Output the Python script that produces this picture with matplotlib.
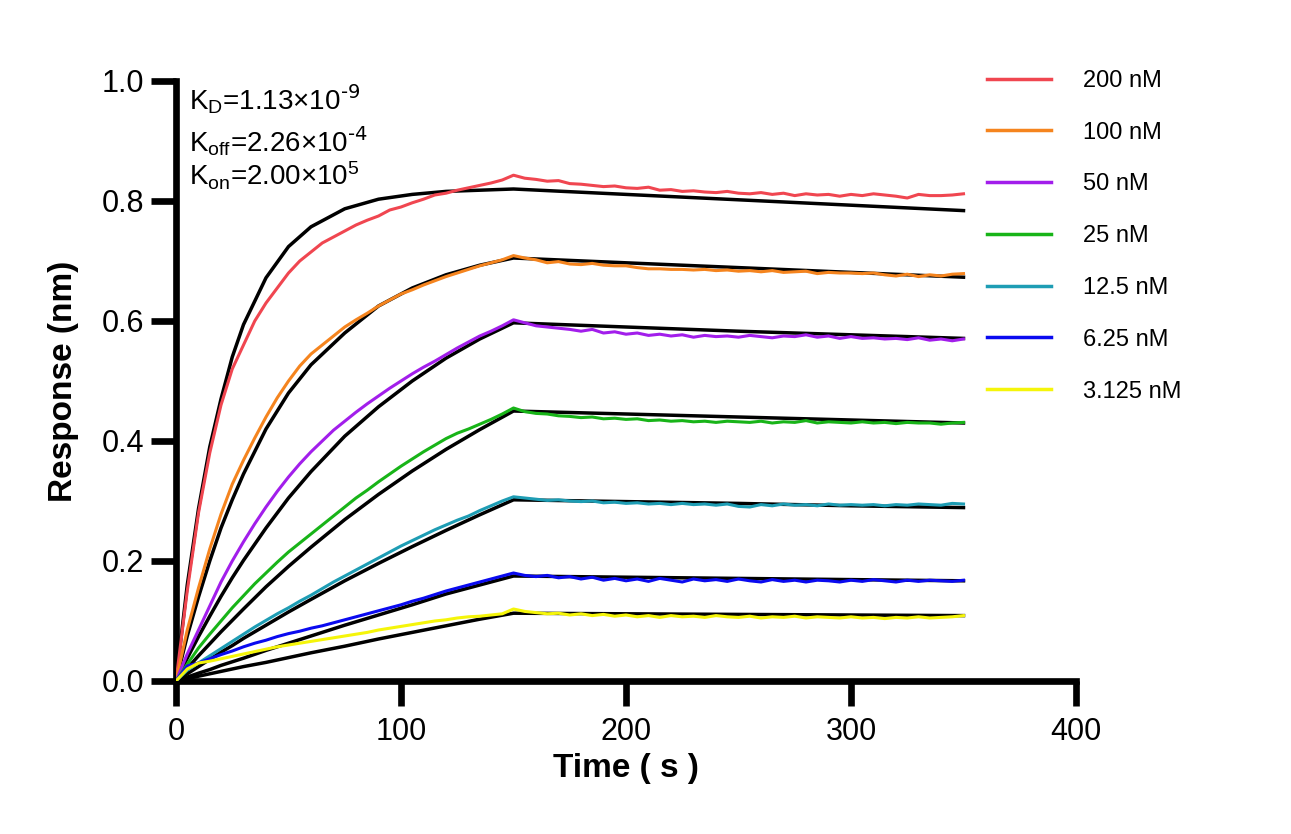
import matplotlib
matplotlib.use("Agg")
import matplotlib.pyplot as plt

# ---- data (time in s, response in nm) ----
labels = ["200 nM", "100 nM", "50 nM", "25 nM", "12.5 nM", "6.25 nM", "3.125 nM"]
colors = ["#F04650", "#F5841E", "#A21EEB", "#18B418", "#1E9DB4", "#0A0AF0", "#F5F50A"]

t_assoc = [0, 5, 10, 15, 20, 25, 30, 35, 40, 45, 50, 55, 60, 65, 70, 75, 80, 85,
           90, 95, 100, 105, 110, 115, 120, 125, 130, 135, 140, 145, 150]
t_dissoc = [155, 160, 165, 170, 175, 180, 185, 190, 195, 200, 205, 210, 215, 220,
            225, 230, 235, 240, 245, 250, 255, 260, 265, 270, 275, 280, 285, 290,
            295, 300, 305, 310, 315, 320, 325, 330, 335, 340, 345, 350]

raw_200 = [0, 0.15, 0.28, 0.38, 0.46, 0.52, 0.56, 0.60, 0.63, 0.655, 0.68, 0.70,
           0.715, 0.73, 0.74, 0.75, 0.76, 0.768, 0.775, 0.785, 0.79, 0.797, 0.803,
           0.81, 0.813, 0.818, 0.822, 0.826, 0.83, 0.835, 0.843,
           0.838, 0.836, 0.833, 0.834, 0.829, 0.828, 0.826, 0.824, 0.825, 0.822,
           0.821, 0.823, 0.818, 0.819, 0.816, 0.817, 0.815, 0.814, 0.816, 0.813,
           0.812, 0.814, 0.811, 0.813, 0.809, 0.812, 0.810, 0.811, 0.808, 0.811,
           0.809, 0.812, 0.810, 0.808, 0.805, 0.811, 0.809, 0.809, 0.810, 0.812]
raw_100 = [0, 0.085, 0.155, 0.22, 0.278, 0.328, 0.368, 0.405, 0.44, 0.472, 0.50,
           0.525, 0.545, 0.56, 0.575, 0.59, 0.602, 0.613, 0.625, 0.635, 0.645,
           0.652, 0.66, 0.667, 0.674, 0.68, 0.686, 0.692, 0.697, 0.702, 0.709,
           0.705, 0.702, 0.697, 0.699, 0.695, 0.694, 0.696, 0.693, 0.692, 0.692,
           0.689, 0.687, 0.687, 0.686, 0.686, 0.685, 0.686, 0.684, 0.685, 0.683,
           0.684, 0.682, 0.684, 0.681, 0.682, 0.683, 0.679, 0.681, 0.680, 0.680,
           0.679, 0.680, 0.677, 0.675, 0.678, 0.674, 0.677, 0.675, 0.678, 0.679]
raw_50 = [0, 0.045, 0.085, 0.125, 0.165, 0.20, 0.232, 0.262, 0.29, 0.316, 0.34,
          0.362, 0.382, 0.40, 0.418, 0.433, 0.448, 0.462, 0.475, 0.488, 0.50,
          0.512, 0.523, 0.533, 0.544, 0.555, 0.565, 0.575, 0.583, 0.592, 0.602,
          0.597, 0.592, 0.590, 0.588, 0.586, 0.583, 0.586, 0.580, 0.582, 0.578,
          0.580, 0.576, 0.578, 0.575, 0.577, 0.573, 0.576, 0.574, 0.575, 0.573,
          0.576, 0.574, 0.572, 0.575, 0.574, 0.577, 0.573, 0.575, 0.571, 0.574,
          0.571, 0.572, 0.570, 0.571, 0.569, 0.572, 0.568, 0.570, 0.567, 0.570]
raw_25 = [0, 0.028, 0.055, 0.078, 0.10, 0.122, 0.142, 0.162, 0.18, 0.198, 0.215,
          0.23, 0.245, 0.26, 0.275, 0.29, 0.305, 0.318, 0.332, 0.345, 0.358, 0.37,
          0.382, 0.393, 0.404, 0.413, 0.42, 0.428, 0.436, 0.445, 0.455,
          0.449, 0.446, 0.445, 0.442, 0.441, 0.439, 0.440, 0.437, 0.438, 0.436,
          0.437, 0.434, 0.435, 0.433, 0.434, 0.432, 0.433, 0.431, 0.433, 0.432,
          0.431, 0.433, 0.430, 0.432, 0.431, 0.434, 0.430, 0.432, 0.431, 0.430,
          0.432, 0.430, 0.431, 0.429, 0.431, 0.430, 0.430, 0.428, 0.430, 0.431]
raw_12 = [0, 0.018, 0.03, 0.042, 0.054, 0.066, 0.078, 0.09, 0.101, 0.112, 0.122,
          0.133, 0.143, 0.154, 0.165, 0.175, 0.185, 0.195, 0.205, 0.215, 0.225,
          0.234, 0.243, 0.252, 0.26, 0.268, 0.275, 0.284, 0.292, 0.30, 0.307,
          0.305, 0.303, 0.301, 0.302, 0.300, 0.299, 0.300, 0.297, 0.298, 0.296,
          0.297, 0.295, 0.296, 0.294, 0.296, 0.294, 0.295, 0.293, 0.295, 0.291,
          0.290, 0.294, 0.292, 0.295, 0.293, 0.294, 0.292, 0.295, 0.293, 0.294,
          0.293, 0.294, 0.292, 0.294, 0.293, 0.295, 0.294, 0.293, 0.296, 0.295]
raw_6 = [0, 0.025, 0.03, 0.037, 0.044, 0.05, 0.057, 0.063, 0.068, 0.074, 0.079,
         0.083, 0.088, 0.092, 0.097, 0.102, 0.107, 0.112, 0.117, 0.122, 0.127,
         0.133, 0.138, 0.144, 0.15, 0.155, 0.16, 0.165, 0.17, 0.175, 0.18,
         0.176, 0.174, 0.176, 0.172, 0.174, 0.170, 0.173, 0.168, 0.171, 0.167,
         0.170, 0.166, 0.171, 0.168, 0.165, 0.170, 0.167, 0.169, 0.166, 0.170,
         0.167, 0.165, 0.169, 0.166, 0.168, 0.165, 0.168, 0.167, 0.165, 0.168,
         0.166, 0.169, 0.167, 0.165, 0.168, 0.166, 0.168, 0.167, 0.166, 0.168]
raw_3 = [0, 0.02, 0.03, 0.033, 0.037, 0.041, 0.045, 0.049, 0.053, 0.057, 0.06,
         0.063, 0.066, 0.069, 0.072, 0.075, 0.078, 0.081, 0.085, 0.088, 0.091,
         0.094, 0.097, 0.10, 0.102, 0.105, 0.107, 0.108, 0.11, 0.112, 0.12,
         0.116, 0.114, 0.112, 0.113, 0.110, 0.112, 0.109, 0.111, 0.108, 0.110,
         0.107, 0.109, 0.106, 0.109, 0.107, 0.108, 0.106, 0.109, 0.107, 0.106,
         0.108, 0.105, 0.107, 0.106, 0.108, 0.105, 0.107, 0.106, 0.105, 0.107,
         0.105, 0.106, 0.104, 0.106, 0.105, 0.107, 0.105, 0.106, 0.107, 0.109]

# global fit curves
t_fit = [0, 5, 10, 15, 20, 25, 30, 40, 50, 60, 75, 90, 105, 120, 135, 150,
         200, 250, 300, 350]
fit_200 = [0, 0.16, 0.287, 0.39, 0.47, 0.54, 0.594, 0.672, 0.724, 0.757, 0.787,
           0.803, 0.811, 0.816, 0.818, 0.82, 0.811, 0.802, 0.793, 0.784]
fit_100 = [0, 0.075, 0.14, 0.2, 0.255, 0.302, 0.345, 0.42, 0.48, 0.527, 0.58,
           0.625, 0.655, 0.677, 0.693, 0.705, 0.697, 0.689, 0.681, 0.673]
fit_50 = [0, 0.038, 0.074, 0.108, 0.141, 0.172, 0.201, 0.255, 0.305, 0.349,
          0.408, 0.457, 0.50, 0.538, 0.57, 0.597, 0.590, 0.583, 0.577, 0.571]
fit_25 = [0, 0.021, 0.042, 0.062, 0.082, 0.101, 0.12, 0.157, 0.191, 0.223,
          0.269, 0.311, 0.35, 0.386, 0.419, 0.45, 0.445, 0.440, 0.435, 0.430]
fit_12 = [0, 0.012, 0.024, 0.036, 0.048, 0.059, 0.071, 0.093, 0.115, 0.136,
          0.167, 0.196, 0.224, 0.251, 0.277, 0.302, 0.299, 0.296, 0.292, 0.289]
fit_6 = [0, 0.0065, 0.013, 0.019, 0.026, 0.032, 0.038, 0.051, 0.063, 0.075,
         0.093, 0.11, 0.127, 0.145, 0.16, 0.175, 0.173, 0.171, 0.169, 0.167]
fit_3 = [0, 0.004, 0.008, 0.012, 0.016, 0.02, 0.024, 0.031, 0.039, 0.047,
         0.058, 0.07, 0.081, 0.092, 0.103, 0.113, 0.112, 0.111, 0.110, 0.109]

raw_series = [raw_200, raw_100, raw_50, raw_25, raw_12, raw_6, raw_3]
fit_series = [fit_200, fit_100, fit_50, fit_25, fit_12, fit_6, fit_3]

x_ticks = [0, 100, 200, 300, 400]
y_ticks = [0.0, 0.2, 0.4, 0.6, 0.8, 1.0]
# superscripts keep a plain hyphen, as in the reference
annotations = [r"K$_\mathregular{D}$=1.13×10$^\text{-9}$",
               r"K$_\mathregular{off}$=2.26×10$^\text{-4}$",
               r"K$_\mathregular{on}$=2.00×10$^\mathregular{5}$"]

plt.rcParams["font.family"] = ["Liberation Sans", "DejaVu Sans"]
plt.rcParams["mathtext.default"] = "regular"

fig = plt.figure(figsize=(12.91, 8.34), dpi=100)
ax = fig.add_axes([176 / 1291, 1 - 681 / 834, 900 / 1291, 600 / 834])

t_all = t_assoc + t_dissoc
for raw, fit, c, lab in zip(raw_series, fit_series, colors, labels):
    ax.plot(t_fit, fit, color="black", lw=2.5, zorder=2)
    ax.plot(t_all, raw, color=c, lw=2.2, label=lab, zorder=3)

ax.set_xlim(0, 400)
ax.set_ylim(0, 1.0)
ax.set_xticks(x_ticks)
ax.set_yticks(y_ticks)
ax.set_yticklabels([f"{v:.1f}" for v in y_ticks])
for sp in ["top", "right"]:
    ax.spines[sp].set_visible(False)
for sp in ["left", "bottom"]:
    ax.spines[sp].set_linewidth(4.8)
    ax.spines[sp].set_capstyle("projecting")
ax.tick_params(width=4.8, length=18, direction="out", labelsize=22)
ax.tick_params(axis="x", pad=8)
ax.tick_params(axis="y", pad=5)

ax.set_ylabel("Response (nm)", fontsize=24, fontweight="bold", labelpad=16)
ax.set_xlabel("Time ( s )", fontsize=24, fontweight="bold", labelpad=4)

for txt, yb in zip(annotations, [0.953, 0.882, 0.825]):
    ax.text(0.0144, yb, txt, transform=ax.transAxes, fontsize=20, va="baseline")

leg = fig.legend(loc="upper left", bbox_to_anchor=(987 / 1291, 1 - 70 / 834),
                 frameon=False, fontsize=17, handlelength=2.7, handletextpad=1.35,
                 labelspacing=1.26, borderpad=0, borderaxespad=0)
for h in leg.get_lines():
    h.set_linewidth(2.5)

fig.savefig("out.png", dpi=100)
